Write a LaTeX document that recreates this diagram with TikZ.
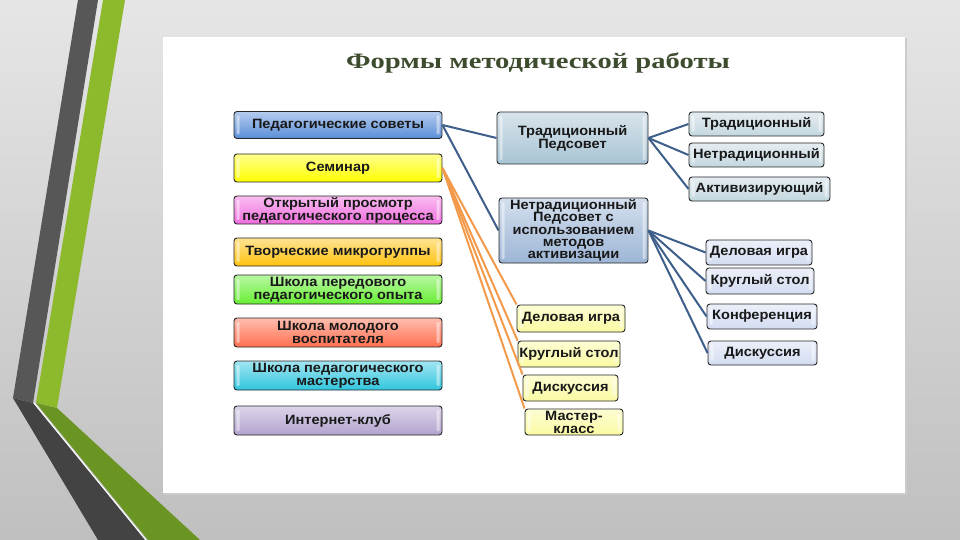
\documentclass[tikz,border=0pt]{standalone}
\usepackage{fontspec}
\setmainfont{Liberation Serif}
\setsansfont{Liberation Sans}
\newfontfamily\titlefont[FakeStretch=1.3]{Liberation Serif}
\newfontfamily\cellface[FakeStretch=1.08]{Liberation Sans}
\newcommand\cellfont{\cellface\bfseries\fontsize{13.5}{13}\selectfont}

\definecolor{stripedark}{HTML}{575757}
\definecolor{stripedarklow}{HTML}{434343}
\definecolor{stripegreen}{HTML}{8DBA2C}
\definecolor{stripegreenlow}{HTML}{6B9523}
\definecolor{titlegreen}{HTML}{3E4C2E}
\definecolor{linkblue}{HTML}{3E5F8A}
\definecolor{linkorange}{HTML}{F39A4A}
\definecolor{cblue}{HTML}{5A8ED8}
\definecolor{cyellow}{HTML}{FFFF00}
\definecolor{cpink}{HTML}{F06CDE}
\definecolor{camber}{HTML}{FFC20E}
\definecolor{cgreen}{HTML}{66EE33}
\definecolor{ccoral}{HTML}{FF6E4E}
\definecolor{ccyan}{HTML}{30C6DE}
\definecolor{clilac}{HTML}{B2A2CE}
\definecolor{cteal}{HTML}{A8C4D4}
\definecolor{csteel}{HTML}{9DB6D6}
\definecolor{cice}{HTML}{C4D7DF}
\definecolor{cmist}{HTML}{D3DCF1}
\definecolor{cpale}{HTML}{FAFAA2}

\begin{document}
\begin{tikzpicture}[x=1pt,y=-1pt,
	box/.style={draw=black!85, line width=0.9pt, rounded corners=3pt,
		top color=#1!45!white, bottom color=#1, text=black!90,
		align=center, font=\cellfont, inner sep=1pt,
		path picture={
			\fill[white, opacity=0.45, rounded corners=1pt]
			([xshift=2.5pt,yshift=-4pt]path picture bounding box.north west) rectangle ([xshift=5.5pt,yshift=4pt]path picture bounding box.south west)
			([xshift=-2.5pt,yshift=-4pt]path picture bounding box.north east) rectangle ([xshift=-5.5pt,yshift=4pt]path picture bounding box.south east);
		}},
	link/.style={linkblue, line width=2pt},
	seminarlink/.style={linkorange, line width=2pt}]
	\useasboundingbox (0,0) rectangle (960,540);
	%
	% background and stripes
	\shade[top color=black!10, bottom color=black!25] (0,0) rectangle (960,540);
	\fill[stripedark] (78,0) -- (98,0) -- (33,403) -- (13,398) -- cycle;
	\fill[stripedarklow] (13,398) -- (33,403) -- (145,540) -- (98,540) -- cycle;
	\fill[stripegreen] (103,0) -- (125,0) -- (57,408) -- (36,403) -- cycle;
	\fill[stripegreenlow] (36,403) -- (57,408) -- (200,540) -- (148,540) -- cycle;
	\draw[white, line width=1pt] (34,403) -- (146,540);
	%
	% panel
	\draw[black!20, line width=1.2pt] (906,38) -- (906,494) -- (164,494);
	\fill[white] (163,37) rectangle (905,493);
	%
	\node[font=\titlefont\bfseries\fontsize{22}{24}\selectfont, text=titlegreen, anchor=base] (title) at (538,69) {Формы методической работы};
	%
	% left column
	\node[box=cblue,   minimum width=208pt, minimum height=27pt] (ps)   at (338,125)   {Педагогические советы};
	\node[box=cyellow, minimum width=208pt, minimum height=28pt] (sem)  at (338,168)   {Семинар};
	\node[box=cpink,   minimum width=208pt, minimum height=28pt] (otk)  at (338,210)   {Открытый просмотр\\педагогического процесса};
	\node[box=camber,  minimum width=208pt, minimum height=28pt] (tvo)  at (338,252)   {Творческие микрогруппы};
	\node[box=cgreen,  minimum width=208pt, minimum height=29pt] (shpo) at (338,289.5) {Школа передового\\педагогического опыта};
	\node[box=ccoral,  minimum width=208pt, minimum height=29pt] (shmv) at (338,332.5) {Школа молодого\\воспитателя};
	\node[box=ccyan,   minimum width=208pt, minimum height=29pt] (shpm) at (338,375.5) {Школа педагогического\\мастерства};
	\node[box=clilac,  minimum width=208pt, minimum height=29pt] (inet) at (338,420.5) {Интернет-клуб};
	%
	% councils
	\node[box=cteal,  minimum width=151pt, minimum height=52pt] (trad)   at (572.5,138)   {Традиционный\\Педсовет};
	\node[box=csteel, minimum width=149pt, minimum height=65pt,
		font=\cellface\bfseries\fontsize{13.5}{12.2}\selectfont] (netrad) at (573.5,230.5) {Нетрадиционный\\Педсовет с\\использованием\\методов\\активизации};
	%
	\node[box=cice, minimum width=135pt, minimum height=24pt] (tr1) at (756.5,124) {Традиционный};
	\node[box=cice, minimum width=135pt, minimum height=24pt] (tr2) at (756.5,155) {Нетрадиционный};
	\node[box=cice, minimum width=141pt, minimum height=24pt] (tr3) at (759.5,189) {Активизирующий};
	%
	\node[box=cmist, minimum width=106pt, minimum height=25pt] (nt1) at (759,252.5) {Деловая игра};
	\node[box=cmist, minimum width=108pt, minimum height=26pt] (nt2) at (760,281)   {Круглый стол};
	\node[box=cmist, minimum width=110pt, minimum height=25pt] (nt3) at (762,316.5) {Конференция};
	\node[box=cmist, minimum width=109pt, minimum height=24pt] (nt4) at (762.5,353) {Дискуссия};
	%
	% seminar forms
	\node[box=cpale, minimum width=108pt, minimum height=27pt] (sm1) at (571,318.5) {Деловая игра};
	\node[box=cpale, minimum width=102pt, minimum height=26pt] (sm2) at (569,354)   {Круглый стол};
	\node[box=cpale, minimum width=95pt,  minimum height=26pt] (sm3) at (570.5,388) {Дискуссия};
	\node[box=cpale, minimum width=98pt,  minimum height=26pt] (sm4) at (574,422)   {Мастер-\\класс};
	%
	% links
	\draw[link] (ps.east) -- (trad.west);
	\draw[link] (ps.east) -- (netrad.west);
	\foreach \n in {tr1,tr2,tr3} \draw[link] (trad.east) -- (\n.west);
	\foreach \n in {nt1,nt2,nt3,nt4} \draw[link] (netrad.east) -- (\n.west);
	\foreach \n in {sm1,sm2,sm3,sm4} \draw[seminarlink] (sem.east) -- (\n.north west);
\end{tikzpicture}
\end{document}
